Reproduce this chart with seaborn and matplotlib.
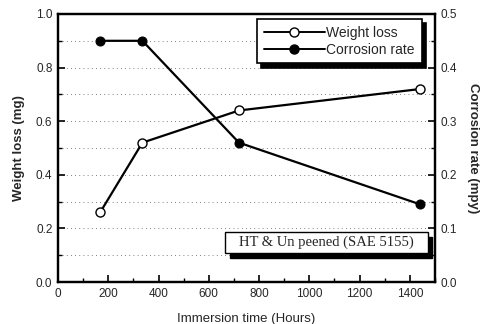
import matplotlib
matplotlib.use("Agg")
import matplotlib.pyplot as plt
import seaborn as sns
import pandas as pd
from matplotlib.patches import Rectangle
from matplotlib.lines import Line2D
from matplotlib.ticker import MultipleLocator

sns.set_theme(style="white")
plt.rcParams["font.family"] = ["Liberation Sans", "DejaVu Sans"]

hours = [168, 336, 720, 1440]
weight_loss = [0.26, 0.52, 0.64, 0.72]
corrosion_rate = [0.45, 0.45, 0.26, 0.145]

df = pd.DataFrame({"hours": hours, "weight_loss": weight_loss,
                   "corrosion_rate": corrosion_rate})

fig = plt.figure(figsize=(4.83, 3.24), dpi=100)
ax = fig.add_axes([0.120, 0.1296, 0.7806, 0.8272])
ax2 = ax.twinx()

# dotted horizontal guides
for y in [0.1, 0.2, 0.3, 0.4, 0.5, 0.6, 0.7, 0.8, 0.9]:
    ax.axhline(y, color="#555555", lw=0.6, ls=(0, (1, 4)), zorder=0)

sns.lineplot(data=df, x="hours", y="weight_loss", ax=ax, color="black", lw=1.6,
             marker="o", markersize=6.5, markerfacecolor="white",
             markeredgecolor="black", markeredgewidth=1.0, zorder=3)
sns.lineplot(data=df, x="hours", y="corrosion_rate", ax=ax2, color="black", lw=1.6,
             marker="o", markersize=6.5, markerfacecolor="black",
             markeredgecolor="black", zorder=3)

ax.set_xlim(0, 1500)
ax.set_ylim(0, 1.0)
ax2.set_ylim(0, 0.5)

ax.xaxis.set_major_locator(MultipleLocator(200))
ax.xaxis.set_minor_locator(MultipleLocator(100))
ax.yaxis.set_major_locator(MultipleLocator(0.2))
ax.yaxis.set_minor_locator(MultipleLocator(0.1))
ax2.yaxis.set_major_locator(MultipleLocator(0.1))
ax2.yaxis.set_minor_locator(MultipleLocator(0.05))

ax.xaxis.set_major_formatter(matplotlib.ticker.FuncFormatter(lambda v, p: f"{v:.0f}"))
ax.yaxis.set_major_formatter(matplotlib.ticker.FormatStrFormatter("%.1f"))
ax2.yaxis.set_major_formatter(matplotlib.ticker.FormatStrFormatter("%.1f"))

for a in (ax, ax2):
    a.tick_params(axis="both", which="major", direction="in", length=5, width=1.2,
                  labelsize=8.5, color="black", pad=4)
    a.tick_params(axis="both", which="minor", direction="in", length=3, width=1.0,
                  color="black")
    for s in a.spines.values():
        s.set_color("black")
        s.set_linewidth(1.6)
ax.tick_params(axis="x", which="both", bottom=True)
ax.tick_params(axis="y", which="both", left=True)
ax2.tick_params(axis="y", which="both", right=True)

ax.set_xlabel("Immersion time (Hours)", fontsize=9.5, labelpad=10)
ax.set_ylabel("Weight loss (mg)", fontsize=9.5, fontweight="bold", labelpad=8)
ax2.set_ylabel("Corrosion rate (mpy)", fontsize=9.5, fontweight="bold",
               rotation=270, labelpad=16)

# legend box with solid shadow
handles = [
    Line2D([], [], color="black", lw=1.4, marker="o", markersize=6.5,
           markerfacecolor="white", markeredgecolor="black"),
    Line2D([], [], color="black", lw=1.4, marker="o", markersize=6.5,
           markerfacecolor="black", markeredgecolor="black"),
]
leg = ax.legend(handles, ["Weight loss", "Corrosion rate"], loc="upper right",
                bbox_to_anchor=(0.965, 0.982), frameon=True, fancybox=False,
                shadow={"color": "black", "alpha": 1.0, "ox": 3, "oy": -3},
                fontsize=10, handlelength=4.4, handletextpad=0.1,
                borderpad=0.5, labelspacing=0.2, borderaxespad=0)
leg.get_frame().set_edgecolor("black")
leg.get_frame().set_linewidth(1.2)
leg.set_zorder(10)

# sample description box with shadow
x0, y0, w, h = 0.443, 0.108, 0.538, 0.079
ax2.add_patch(Rectangle((x0 + 0.012, y0 - 0.018), w, h, transform=ax.transAxes,
                        facecolor="black", edgecolor="black", zorder=8, clip_on=False))
ax2.add_patch(Rectangle((x0, y0), w, h, transform=ax.transAxes,
                        facecolor="white", edgecolor="black", lw=1.0, zorder=9,
                        clip_on=False))
ax2.text(x0 + w / 2, y0 + h / 2, "HT & Un peened (SAE 5155)", transform=ax.transAxes,
         ha="center", va="center", fontsize=10.5, zorder=10,
         family=["Liberation Serif", "DejaVu Serif"])

fig.savefig("out.png", dpi=100)
